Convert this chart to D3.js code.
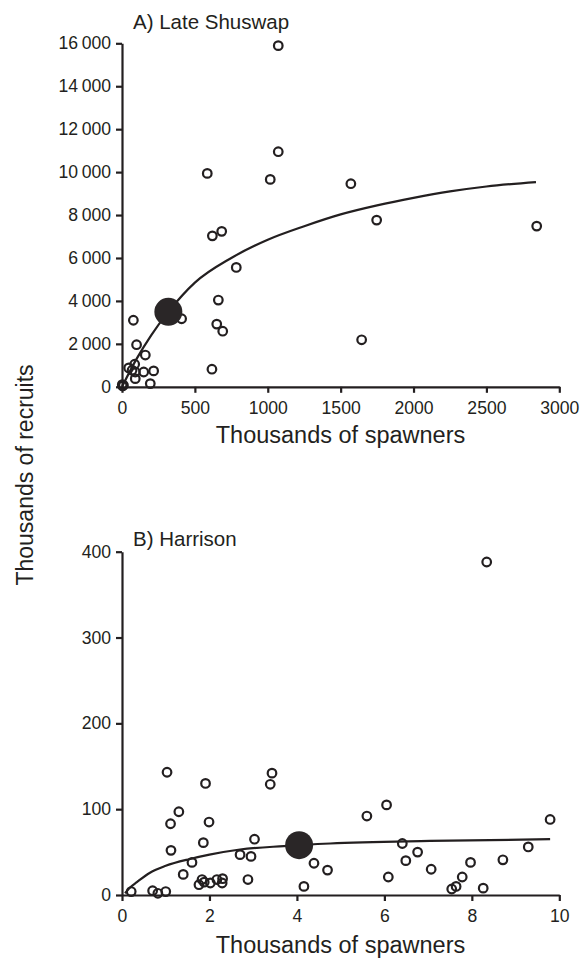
<!DOCTYPE html>
<html>
<head>
<meta charset="utf-8">
<script src="https://cdn.jsdelivr.net/npm/d3@7"></script>
<style>
  html, body { margin: 0; padding: 0; background: #fff; }
  svg { display: block; }
  text { font-family: "Liberation Sans", Arial, Helvetica, sans-serif; fill: #231f20; }
  .axis path, .axis line { stroke: #231f20; stroke-width: 2.2; }
  .axis text { font-size: 17.6px; fill: #231f20; }
</style>
</head>
<body>
<script>
// Panel A: Late Shuswap stock-recruit observations (thousands of fish)
const spawnersA = [1072, 1072, 585, 1017, 1570, 1747, 2845, 1644, 620, 684, 784, 661, 650, 691, 617, 409,
                   78, 100, 160, 46, 87, 69, 91, 149, 217, 91, 194, 4, 10, 2];
const recruitsA = [15890, 10950, 9940, 9660, 9460, 7765, 7485, 2190, 7030, 7240, 5560, 4040, 2920, 2590, 820, 3170,
                   3100, 1960, 1480, 880, 1050, 770, 690, 690, 740, 380, 150, 40, 70, 100];
// Fitted stock-recruit curve for panel A
const curveSpawnersA = [0, 100, 200, 318, 500, 750, 1000, 1250, 1500, 1750, 2000, 2250, 2500, 2840];
const curveRecruitsA = [0, 1300, 2400, 3490, 4850, 6000, 6850, 7480, 8030, 8450, 8800, 9100, 9330, 9536];
// Highlighted point for panel A
const markA = { spawners: 318, recruits: 3490 };

// Panel B: Harrison stock-recruit observations (thousands of fish)
const spawnersB = [0.21, 0.70, 0.82, 1.00, 1.03, 1.91, 1.30, 1.11, 1.99, 1.12, 1.86, 3.03, 3.43, 3.39, 1.60, 1.40,
                   2.70, 2.95, 2.88, 4.39, 4.70, 4.16, 1.76, 1.83, 1.88, 2.02, 2.17, 2.30, 2.29, 8.34, 5.60, 6.05,
                   9.79, 6.41, 6.76, 6.49, 7.07, 6.09, 7.97, 7.78, 7.64, 7.54, 8.26, 8.71, 9.29];
const recruitsB = [4, 5, 2, 4, 143, 130, 97, 83, 85, 52, 61, 65, 142, 129, 38, 24,
                   47, 45, 18, 37, 29, 10, 12, 18, 15, 14, 18, 19, 14, 388, 92, 105,
                   88, 60, 50, 40, 30, 21, 38, 21, 10, 7, 8, 41, 56];
// Fitted stock-recruit curve for panel B
const curveSpawnersB = [0.07, 0.19, 0.34, 0.64, 1.0, 1.56, 2.0, 2.7, 3.7, 4.76, 7.04, 9.79];
const curveRecruitsB = [2, 9, 15, 26, 34, 42, 47, 53, 57, 60, 63, 65];
const markB = { spawners: 4.05, recruits: 58 };

// Axis tick values
const xTicksA = [0, 500, 1000, 1500, 2000, 2500, 3000];
const yTicksA = [0, 2000, 4000, 6000, 8000, 10000, 12000, 14000, 16000];
const xTicksB = [0, 2, 4, 6, 8, 10];
const yTicksB = [0, 100, 200, 300, 400];

const W = 587, H = 962;
const ink = "#231f20";

const svg = d3.select("body").append("svg")
  .attr("width", W).attr("height", H);

// thousands separated by a narrow space: 16 000
const spaced = d => d >= 1000 ? d3.format(",")(d).replace(/,/g, "\u2009") : String(d);

function panel(cfg) {
  const x = d3.scaleLinear().domain(cfg.xDomain).range([122, 559.3]);
  const y = d3.scaleLinear().domain(cfg.yDomain).range(cfg.yRange);
  const g = svg.append("g");

  g.append("g").attr("class", "axis")
    .attr("transform", `translate(0,${cfg.yRange[0]})`)
    .call(d3.axisBottom(x).tickValues(cfg.xTicks).tickSize(6).tickSizeOuter(0).tickPadding(9)
      .tickFormat(d => String(d)));

  g.append("g").attr("class", "axis")
    .attr("transform", "translate(122,0)")
    .call(d3.axisLeft(y).tickValues(cfg.yTicks).tickSize(6).tickSizeOuter(0).tickPadding(5)
      .tickFormat(cfg.yFormat));

  // fitted curve
  const pts = cfg.curveS.map((s, i) => [s, cfg.curveR[i]]);
  g.append("path")
    .datum(pts)
    .attr("fill", "none")
    .attr("stroke", ink)
    .attr("stroke-width", 2.2)
    .attr("d", d3.line().x(d => x(d[0])).y(d => y(d[1])).curve(d3.curveMonotoneX));

  // observations
  g.append("g").selectAll("circle")
    .data(cfg.S.map((s, i) => [s, cfg.R[i]]))
    .join("circle")
    .attr("cx", d => x(d[0]))
    .attr("cy", d => y(d[1]))
    .attr("r", 4.3)
    .attr("fill", "none")
    .attr("stroke", ink)
    .attr("stroke-width", 2.2);

  // highlighted point
  g.append("circle")
    .attr("cx", x(cfg.mark.spawners))
    .attr("cy", y(cfg.mark.recruits))
    .attr("r", 14)
    .attr("fill", "#2a2627");

  g.append("text")
    .attr("x", 133).attr("y", cfg.titleY)
    .attr("font-size", 20.5)
    .text(cfg.title);

  g.append("text")
    .attr("x", 340.5).attr("y", cfg.xTitleY)
    .attr("text-anchor", "middle")
    .attr("font-size", 23.5)
    .text("Thousands of spawners");
}

panel({
  title: "A) Late Shuswap", titleY: 28.5,
  xDomain: [0, 3000], yDomain: [0, 16000], yRange: [386.8, 43.3],
  xTicks: xTicksA, yTicks: yTicksA, yFormat: spaced,
  S: spawnersA, R: recruitsA, curveS: curveSpawnersA, curveR: curveRecruitsA, mark: markA,
  xTitleY: 443
});

panel({
  title: "B) Harrison", titleY: 546,
  xDomain: [0, 10], yDomain: [0, 400], yRange: [895, 551.7],
  xTicks: xTicksB, yTicks: yTicksB, yFormat: d => String(d),
  S: spawnersB, R: recruitsB, curveS: curveSpawnersB, curveR: curveRecruitsB, mark: markB,
  xTitleY: 953
});

svg.append("text")
  .attr("transform", "translate(33,475) rotate(-90)")
  .attr("text-anchor", "middle")
  .attr("font-size", 23)
  .text("Thousands of recruits");
</script>
</body>
</html>
